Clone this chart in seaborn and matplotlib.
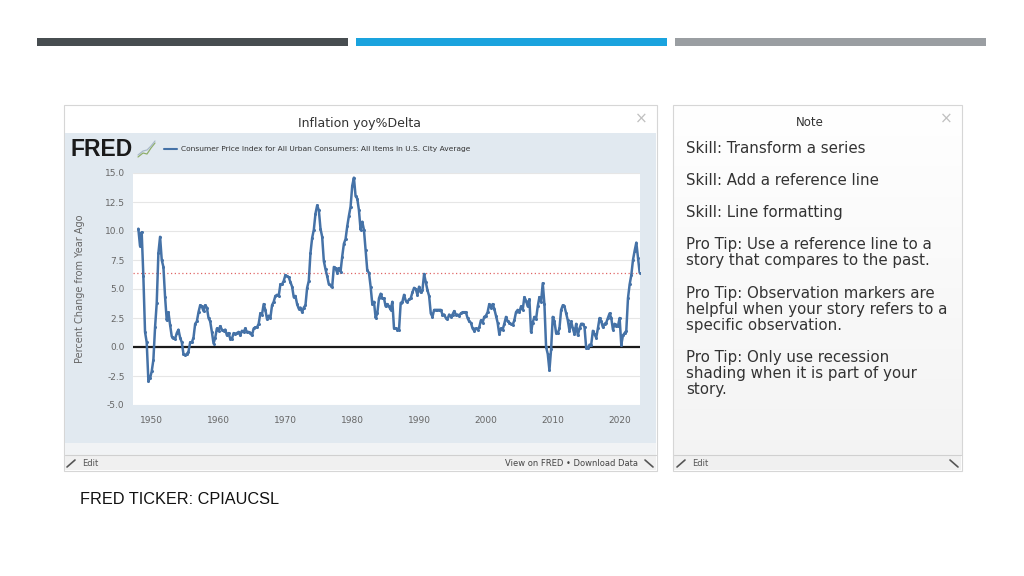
import numpy as np
import pandas as pd
import matplotlib.pyplot as plt
import matplotlib.patches as patches
import seaborn as sns

# ------------------------------------------
# Data: CPIAUCSL, percent change from year ago (quarterly)
# ------------------------------------------
start_year = 1948
cpi_yoy = [
    10.2, 8.7, 9.9, 6.1,    # 1948
    1.3, 0.4, -2.9, -2.7,   # 1949
    -2.1, -1.1, 1.7, 3.8,   # 1950
    8.1, 9.5, 7.5, 6.9,     # 1951
    4.3, 2.3, 3.0, 1.9,     # 1952
    0.9, 0.8, 0.7, 1.2,     # 1953
    1.5, 0.8, 0.4, -0.6,    # 1954
    -0.7, -0.6, -0.4, 0.4,  # 1955
    0.4, 0.8, 2.0, 2.2,     # 1956
    3.0, 3.6, 3.5, 3.1,     # 1957
    3.6, 3.4, 2.5, 2.2,     # 1958
    1.3, 0.3, 0.8, 1.6,     # 1959
    1.4, 1.8, 1.5, 1.4,     # 1960
    1.5, 1.0, 1.2, 0.7,     # 1961
    0.7, 1.2, 1.1, 1.2,     # 1962
    1.3, 1.0, 1.4, 1.3,     # 1963
    1.6, 1.3, 1.3, 1.2,     # 1964
    1.0, 1.6, 1.7, 1.7,     # 1965
    2.0, 2.9, 2.8, 3.7,     # 1966
    3.2, 2.4, 2.7, 2.5,     # 1967
    3.6, 3.9, 4.4, 4.5,     # 1968
    4.4, 5.4, 5.4, 5.7,     # 1969
    6.2, 6.1, 6.0, 5.6,     # 1970
    5.2, 4.3, 4.4, 3.7,     # 1971
    3.3, 3.4, 3.0, 3.4,     # 1972
    3.6, 5.1, 5.7, 8.1,     # 1973
    9.4, 10.1, 11.5, 12.2,  # 1974
    11.8, 10.2, 9.5, 7.4,   # 1975
    6.7, 6.1, 5.4, 5.3,     # 1976
    5.2, 6.9, 6.8, 6.4,     # 1977
    6.8, 6.5, 7.8, 8.9,     # 1978
    9.3, 10.4, 11.3, 12.1,  # 1979
    13.9, 14.6, 13.0, 12.8, # 1980
    11.8, 10.1, 10.8, 10.1, # 1981
    8.4, 6.6, 6.4, 5.2,     # 1982
    3.7, 3.9, 2.5, 2.9,     # 1983
    4.2, 4.6, 4.2, 4.2,     # 1984
    3.5, 3.7, 3.5, 3.2,     # 1985
    3.9, 1.6, 1.6, 1.5,     # 1986
    1.5, 3.8, 3.9, 4.5,     # 1987
    4.0, 3.9, 4.1, 4.2,     # 1988
    4.7, 5.1, 5.0, 4.5,     # 1989
    5.2, 4.7, 4.9, 6.3,     # 1990
    5.6, 4.9, 4.4, 2.9,     # 1991
    2.6, 3.2, 3.2, 3.2,     # 1992
    3.2, 3.2, 2.8, 2.8,     # 1993
    2.5, 2.4, 2.8, 2.6,     # 1994
    2.8, 3.1, 2.8, 2.8,     # 1995
    2.7, 2.9, 3.0, 3.0,     # 1996
    3.0, 2.5, 2.2, 2.1,     # 1997
    1.6, 1.4, 1.6, 1.5,     # 1998
    1.7, 2.3, 2.1, 2.6,     # 1999
    2.7, 3.0, 3.7, 3.4,     # 2000
    3.7, 3.3, 2.7, 2.1,     # 2001
    1.1, 1.6, 1.5, 2.0,     # 2002
    2.6, 2.2, 2.1, 2.0,     # 2003
    1.9, 2.3, 3.0, 3.2,     # 2004
    3.0, 3.5, 3.2, 4.3,     # 2005
    4.0, 3.5, 4.1, 1.3,     # 2006
    2.1, 2.6, 2.4, 3.5,     # 2007
    4.3, 3.9, 5.5, 3.7,     # 2008
    0.0, -0.6, -2.0, -0.2,  # 2009
    2.6, 2.2, 1.2, 1.2,     # 2010
    1.6, 3.2, 3.6, 3.5,     # 2011
    2.9, 2.3, 1.4, 2.2,     # 2012
    1.6, 1.1, 2.0, 1.0,     # 2013
    1.6, 2.0, 2.0, 1.7,     # 2014
    -0.1, -0.1, 0.2, 0.2,   # 2015
    1.4, 1.1, 0.8, 1.6,     # 2016
    2.5, 2.2, 1.7, 2.0,     # 2017
    2.1, 2.5, 2.9, 2.5,     # 2018
    1.5, 2.0, 1.8, 1.8,     # 2019
    2.5, 0.2, 1.0, 1.2,     # 2020
    1.4, 4.2, 5.4, 6.2,     # 2021
    7.5, 8.3, 9.0, 7.7,     # 2022
    6.4,                    # 2023
]
reference_level = 6.4
y_ticks = [-5.0, -2.5, 0.0, 2.5, 5.0, 7.5, 10.0, 12.5, 15.0]
x_ticks = [1950, 1960, 1970, 1980, 1990, 2000, 2010, 2020]

df = pd.DataFrame({
    "date": start_year + 0.25 * np.arange(len(cpi_yoy)),
    "value": cpi_yoy,
})

# note text blocks and the pixel row of their first line
note_lines = [
    ("Skill: Transform a series", 149),
    ("Skill: Add a reference line", 181),
    ("Skill: Line formatting", 213),
    ("Pro Tip: Use a reference line to a\nstory that compares to the past.", 245),
    ("Pro Tip: Observation markers are\nhelpful when your story refers to a\nspecific observation.", 294),
    ("Pro Tip: Only use recession\nshading when it is part of your\nstory.", 358),
]

# ------------------------------------------
# Figure / slide background
# ------------------------------------------
sns.set_style("white")
plt.rcParams['font.family'] = ['DejaVu Sans']

W, H = 1024, 576
fig = plt.figure(figsize=(W / 100, H / 100), dpi=100)
fig.patch.set_facecolor("white")

bg = fig.add_axes([0, 0, 1, 1])
bg.set_xlim(0, W)
bg.set_ylim(H, 0)
bg.axis("off")


def rect(x0, y0, x1, y1, fc, ec="none", lw=0.8, z=1):
    bg.add_patch(patches.Rectangle((x0, y0), x1 - x0, y1 - y0,
                                   facecolor=fc, edgecolor=ec, lw=lw, zorder=z))


# top decorative bars
rect(37, 38, 348, 46, "#474d50")
rect(356, 38, 667, 46, "#1aa3de")
rect(675, 38, 986, 46, "#9a9ea2")

# FRED panel
rect(64, 105, 657, 471, "white", ec="#d6d6d6")
rect(65, 133, 656, 443, "#e1e9f0")
rect(65, 443, 656, 455, "#f1f3f5")
rect(65, 455, 656, 470, "#f0f0f0")
bg.plot([65, 656], [455, 455], color="#d0d0d0", lw=0.8, zorder=2)
bg.text(360, 123, "Inflation yoy%Delta", ha="center", va="center", fontsize=9, color="#333333")
bg.text(641, 119, "\u00d7", ha="center", va="center", fontsize=11, color="#c0c0c0")
bg.text(71, 150, "FRED", ha="left", va="center", fontsize=16.5, fontweight="bold",
        color="#1a1a1a", family="Liberation Sans")
# small logo chart glyph
bg.plot([138, 143, 147, 151, 155], [157, 153, 154, 148, 143], color="#8fae6a", lw=0.9, zorder=2)
bg.plot([138, 143, 147, 151, 155], [155, 151, 150, 146, 141], color="#a9b9c9", lw=0.9, zorder=2)
bg.plot([164, 177], [149, 149], color="#4572a7", lw=1.5, zorder=2)
bg.text(181, 149, "Consumer Price Index for All Urban Consumers: All Items in U.S. City Average",
        ha="left", va="center", fontsize=5.4, color="#333333")
bg.text(82, 464, "Edit", ha="left", va="center", fontsize=6, color="#555555")
bg.plot([67, 75], [467, 460], color="#555555", lw=1.2, zorder=2)
bg.text(638, 464, "View on FRED \u2022 Download Data", ha="right", va="center",
        fontsize=6, color="#444444")
bg.plot([645, 653], [460, 467], color="#555555", lw=1.2, zorder=2)

# Note panel: white fading to light grey
rect(673, 105, 962, 471, "none", ec="#d6d6d6", z=3)
grad = np.linspace(1.0, 0.955, 256).reshape(-1, 1)
bg.imshow(np.dstack([grad, grad, grad]), extent=(673, 962, 455, 105),
          aspect="auto", zorder=1, interpolation="bilinear")
bg.set_xlim(0, W)
bg.set_ylim(H, 0)
rect(674, 455, 961, 470, "#f0f0f0", z=2)
bg.plot([674, 961], [455, 455], color="#d0d0d0", lw=0.8, zorder=2)
bg.text(810, 123, "Note", ha="center", va="center", fontsize=8.5, color="#333333")
bg.text(946, 119, "\u00d7", ha="center", va="center", fontsize=11, color="#c0c0c0")
for txt, yfirst in note_lines:
    bg.text(686, yfirst - 8, txt, ha="left", va="top", fontsize=10.8,
            color="#333333", linespacing=1.08)
bg.text(692, 464, "Edit", ha="left", va="center", fontsize=6, color="#555555")
bg.plot([677, 685], [467, 460], color="#555555", lw=1.2, zorder=2)
bg.plot([950, 958], [460, 467], color="#555555", lw=1.2, zorder=2)

bg.text(80, 500, "FRED TICKER: CPIAUCSL", ha="left", va="center", fontsize=11.7,
        color="#111111", family="Liberation Sans")

# ------------------------------------------
# The FRED line chart
# ------------------------------------------
x0, x1, y0, y1 = 133, 640, 173, 405
ax = fig.add_axes([x0 / W, 1 - y1 / H, (x1 - x0) / W, (y1 - y0) / H])
ax.set_facecolor("white")

for t in y_ticks:
    ax.axhline(t, color="#e6e6e6", lw=0.8, zorder=0)
ax.axhline(0, color="#1a1a1a", lw=1.6, zorder=1)
ax.axhline(reference_level, color="#e06666", lw=0.9, ls=(0, (1, 2)), zorder=1)

sns.lineplot(data=df, x="date", y="value", ax=ax, color="#4572a7", lw=1.8,
             marker="o", markersize=2.2, markeredgewidth=0, zorder=3)

ax.set_xlim(1947.2, 2023.05)
ax.set_ylim(-5, 15)
ax.set_yticks(y_ticks)
ax.set_yticklabels([f"{t:.1f}" for t in y_ticks])
ax.set_xticks(x_ticks)
ax.tick_params(axis="both", labelsize=6.5, colors="#666666", length=0, pad=6)
ax.tick_params(axis="x", pad=8)
for s in ax.spines.values():
    s.set_visible(False)
ax.set_xlabel("")
ax.set_ylabel("Percent Change from Year Ago", fontsize=7, color="#666666", labelpad=14)

fig.savefig("out.png", dpi=100)
